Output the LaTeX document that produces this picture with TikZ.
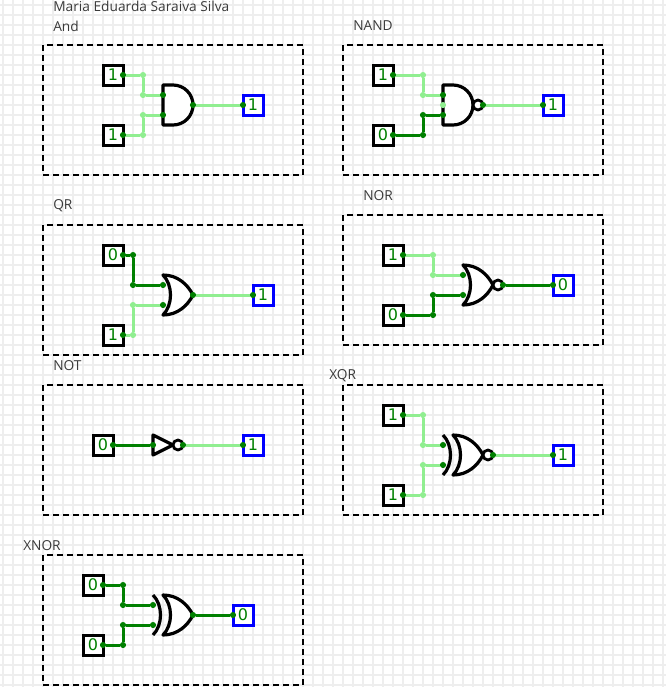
\documentclass[tikz,border=0pt]{standalone}
\usepackage{fontspec}
\setmainfont{Open Sans}
\newfontfamily\valuefont{DejaVu Sans}
\usetikzlibrary{positioning}
\definecolor{wire1}{HTML}{90EE90}
\definecolor{wire0}{HTML}{008000}
\definecolor{gridgray}{HTML}{EEEEEE}
\definecolor{textgray}{HTML}{3A3A3A}
\tikzset{
  panel/.style={draw,dashed,dash pattern=on 4.5pt off 3pt,line width=1.8pt,minimum width=195pt,minimum height=97.5pt},
  title/.style={anchor=west,inner sep=0pt,text=textgray,font=\fontsize{10.3}{12}\selectfont},
  inbox/.style={draw,fill=white,line width=2.25pt,minimum size=15pt,inner sep=0pt,text=wire0,font=\valuefont\fontsize{12}{13}\selectfont},
  outbox/.style={inbox,draw=blue},
  pin/.style={circle,fill=wire0,minimum size=4.6pt,inner sep=0pt,outer sep=0pt},
  joint/.style={circle,fill=wire#1,minimum size=4.6pt,inner sep=0pt,outer sep=0pt},
  wire/.style={draw=wire#1,line width=2.25pt},
  gatebody/.style={draw,fill=white,line width=2.4pt,line join=round},
  andgate/.pic={\draw[gatebody] (0,-20) -- (10,-20) arc[start angle=-90,end angle=90,radius=20] -- (0,20) -- cycle;},
  orgate/.pic={\draw[gatebody] (0,-20) .. controls (15,-20) and (25,-10) .. (30,0) .. controls (25,10) and (15,20) .. (0,20) .. controls (10,10) and (10,-10) .. (0,-20) -- cycle;},
  xorgate/.pic={\draw[gatebody] (10,-20) .. controls (25,-20) and (35,-10) .. (40,0) .. controls (35,10) and (25,20) .. (10,20) .. controls (20,10) and (20,-10) .. (10,-20) -- cycle;
    \draw[gatebody,fill=none] (0,-20) .. controls (10,-10) and (10,10) .. (0,20);},
  notgate/.pic={\draw[gatebody] (0,-10) -- (20,0) -- (0,10) -- cycle;},
  bubble/.pic={\draw[gatebody,line width=2.1pt] (0,0) circle[radius=5];},
  nandgate/.pic={\pic {andgate}; \pic at (35,0) {bubble};},
  norgate/.pic={\pic {orgate}; \pic at (35,0) {bubble};},
  xnorgate/.pic={\pic {xorgate}; \pic at (45,0) {bubble};},
}
\begin{document}
\begin{tikzpicture}[x=0.75pt,y=-0.75pt]
  \useasboundingbox (0,0) rectangle (666,687);
  % grid
  \foreach \X in {3,13,...,663}
    {\draw[gridgray,line width=0.9pt] (\X,0) -- (\X,687);}
  \foreach \Y in {5,15,...,685}
    {\draw[gridgray,line width=0.9pt] (0,\Y) -- (666,\Y);}
  % panels
  \foreach \n/\X/\Y in {pand/173/110,pnand/473/110,pqr/173/290,pnor/473/280,pnot/173/450,pxqr/473/450,pxnor/173/620}
    {\node[panel] (\n) at (\X,\Y) {};}
  % titles
  \node[title] (author) at (53,6) {Maria Eduarda Saraiva Silva};
  \node[title] (tand) at (53,26) {And};
  \node[title] (tnand) at (353,26) {NAND};
  \node[title] (tqr) at (53,206) {QR};
  \node[title] (tnor) at (363,196) {NOR};
  \node[title] (tnot) at (53,366) {NOT};
  \node[title] (txqr) at (329,376) {XQR};
  \node[title] (txnor) at (23,546) {XNOR};
  % two input gates: name/box x/joint x/gate x/centre y/box offset/gate/out pin x/out dot x/values
  \foreach \n/\bx/\jx/\gx/\yc/\sep/\gt/\ox/\dx/\va/\vb/\vo in {
      and/113/143/163/105/30/andgate/193/243/1/1/1,
      nand/383/423/443/105/30/nandgate/483/543/1/0/1,
      qr/113/133/163/295/40/orgate/193/253/0/1/1,
      nor/393/433/463/285/30/norgate/503/553/1/0/0,
      xqr/393/423/443/455/40/xnorgate/493/553/1/1/1,
      xnor/93/123/153/615/30/xorgate/193/233/0/0/0}
  {
    \pic at (\gx,\yc) {\gt};
    \node[inbox] (\n-a) at (\bx,\yc-\sep) {\va};
    \node[inbox] (\n-b) at (\bx,\yc+\sep) {\vb};
    \node[outbox] (\n-o) at (\dx+10,\yc) {\vo};
    \node[pin] (\n-ap) at (\bx+10,\yc-\sep) {};
    \node[pin] (\n-bp) at (\bx+10,\yc+\sep) {};
    \node[joint=\va] (\n-aj) at (\jx,\yc-\sep) {};
    \node[joint=\vb] (\n-bj) at (\jx,\yc+\sep) {};
    \node[joint=\va] (\n-ak) at (\jx,\yc-10) {};
    \node[joint=\vb] (\n-bk) at (\jx,\yc+10) {};
    \node[pin] (\n-ag) at (\gx,\yc-10) {};
    \node[pin] (\n-bg) at (\gx,\yc+10) {};
    \node[pin] (\n-og) at (\ox,\yc) {};
    \node[pin] (\n-od) at (\dx,\yc) {};
    \draw[wire=\va] (\n-ap) -- (\n-aj);
    \draw[wire=\va] (\n-aj) -- (\n-ak);
    \draw[wire=\va] (\n-ak) -- (\n-ag);
    \draw[wire=\vb] (\n-bp) -- (\n-bj);
    \draw[wire=\vb] (\n-bj) -- (\n-bk);
    \draw[wire=\vb] (\n-bk) -- (\n-bg);
    \draw[wire=\vo] (\n-og) -- (\n-od);
  }
  \node[joint=1] (nand-c) at (443,105) {};
  % not gate
  \pic at (153,445) {notgate};
  \pic at (178,445) {bubble};
  \node[inbox] (not-a) at (103,445) {0};
  \node[outbox] (not-o) at (253,445) {1};
  \node[pin] (not-ap) at (113,445) {};
  \node[pin] (not-ag) at (153,445) {};
  \node[pin] (not-og) at (183,445) {};
  \node[pin] (not-od) at (243,445) {};
  \draw[wire=0] (not-ap) -- (not-ag);
  \draw[wire=1] (not-og) -- (not-od);
\end{tikzpicture}
\end{document}
